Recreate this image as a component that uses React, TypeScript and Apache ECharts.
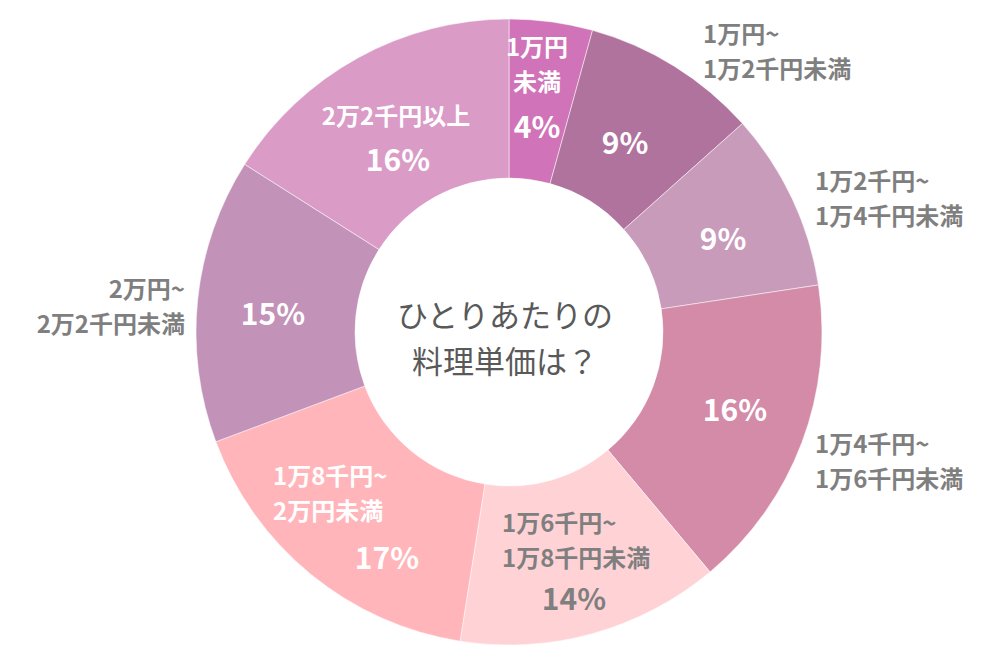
import React, { useEffect, useRef } from "react";
import * as echarts from "echarts";

const categories = [
  "1万円未満",
  "1万円~1万2千円未満",
  "1万2千円~1万4千円未満",
  "1万4千円~1万6千円未満",
  "1万6千円~1万8千円未満",
  "1万8千円~2万円未満",
  "2万円~2万2千円未満",
  "2万2千円以上",
];
const values = [4.3, 9.1, 9.2, 16.3, 13.6, 16.8, 14.7, 16.0];
const percentLabels = ["4%", "9%", "9%", "16%", "14%", "17%", "15%", "16%"];
const nameLabels = [
  "1万円\n未満",
  "1万円~\n1万2千円未満",
  "1万2千円~\n1万4千円未満",
  "1万4千円~\n1万6千円未満",
  "1万6千円~\n1万8千円未満",
  "1万8千円~\n2万円未満",
  "2万円~\n2万2千円未満",
  "2万2千円以上",
];
const colors = [
  "#D073B8",
  "#B0739E",
  "#C99BBB",
  "#D48BA8",
  "#FFD3D6",
  "#FFB5B9",
  "#C392B8",
  "#DA9BC7",
];
const centerTitle = "ひとりあたりの\n料理単価は？";

// label layout: name block (x, block-centre y, align, color), percent (x, y, color)
const labelLayout = [
  { nx: 537, ny: 63, na: "center", nc: "#FFFFFF", px: 537, py: 125, pc: "#FFFFFF" },
  { nx: 703, ny: 50, na: "left", nc: "#7F7F7F", px: 625, py: 141, pc: "#FFFFFF" },
  { nx: 815, ny: 197, na: "left", nc: "#7F7F7F", px: 723, py: 237, pc: "#FFFFFF" },
  { nx: 815, ny: 460, na: "left", nc: "#7F7F7F", px: 735, py: 408, pc: "#FFFFFF" },
  { nx: 502, ny: 539, na: "left", nc: "#7F7F7F", px: 574, py: 597, pc: "#7F7F7F" },
  { nx: 273, ny: 492, na: "left", nc: "#FFFFFF", px: 387, py: 556, pc: "#FFFFFF" },
  { nx: 185, ny: 305, na: "right", nc: "#7F7F7F", px: 273, py: 312, pc: "#FFFFFF" },
  { nx: 396, ny: 114, na: "center", nc: "#FFFFFF", px: 398, py: 158, pc: "#FFFFFF" },
];

const FONT = '"Noto Sans CJK JP", "Noto Sans", sans-serif';
const LINE_H = 35;

export default function App() {
  const ref = useRef<HTMLDivElement>(null);
  useEffect(() => {
    document.body.style.margin = "0";
    if (!ref.current) return;
    const chart = echarts.init(ref.current, null, { renderer: "svg" });
    const graphics: any[] = [];
    labelLayout.forEach((l, i) => {
      const lines = nameLabels[i].split("\n");
      const n = lines.length;
      lines.forEach((t, j) => {
        graphics.push({
          type: "text",
          x: l.nx,
          y: l.ny + (j - (n - 1) / 2) * LINE_H,
          z: 100,
          style: {
            text: t,
            fill: l.nc,
            font: `bold 24px ${FONT}`,
            textAlign: l.na,
            textVerticalAlign: "middle",
          },
        });
      });
      graphics.push({
        type: "text",
        x: l.px,
        y: l.py,
        z: 100,
        style: {
          text: percentLabels[i],
          fill: l.pc,
          font: `bold 30px ${FONT}`,
          textAlign: "center",
          textVerticalAlign: "middle",
        },
      });
    });
    centerTitle.split("\n").forEach((t, j) => {
      graphics.push({
        type: "text",
        x: 505,
        y: 313 + j * 46,
        z: 100,
        style: {
          text: t,
          fill: "#595959",
          font: `31px ${FONT}`,
          textAlign: "center",
          textVerticalAlign: "middle",
        },
      });
    });

    chart.setOption({
      animation: false,
      backgroundColor: "#FFFFFF",
      series: [
        {
          type: "pie",
          center: [509, 332],
          radius: [154, 313],
          startAngle: 90,
          clockwise: true,
          label: { show: false },
          labelLine: { show: false },
          emphasis: { disabled: true },
          itemStyle: { borderColor: "rgba(255,255,255,0.5)", borderWidth: 1 },
          data: categories.map((c, i) => ({
            name: c,
            value: values[i],
            itemStyle: { color: colors[i] },
          })),
        },
      ],
      graphic: graphics,
    });
    return () => chart.dispose();
  }, []);
  return <div ref={ref} style={{ width: 1000, height: 668 }} />;
}
